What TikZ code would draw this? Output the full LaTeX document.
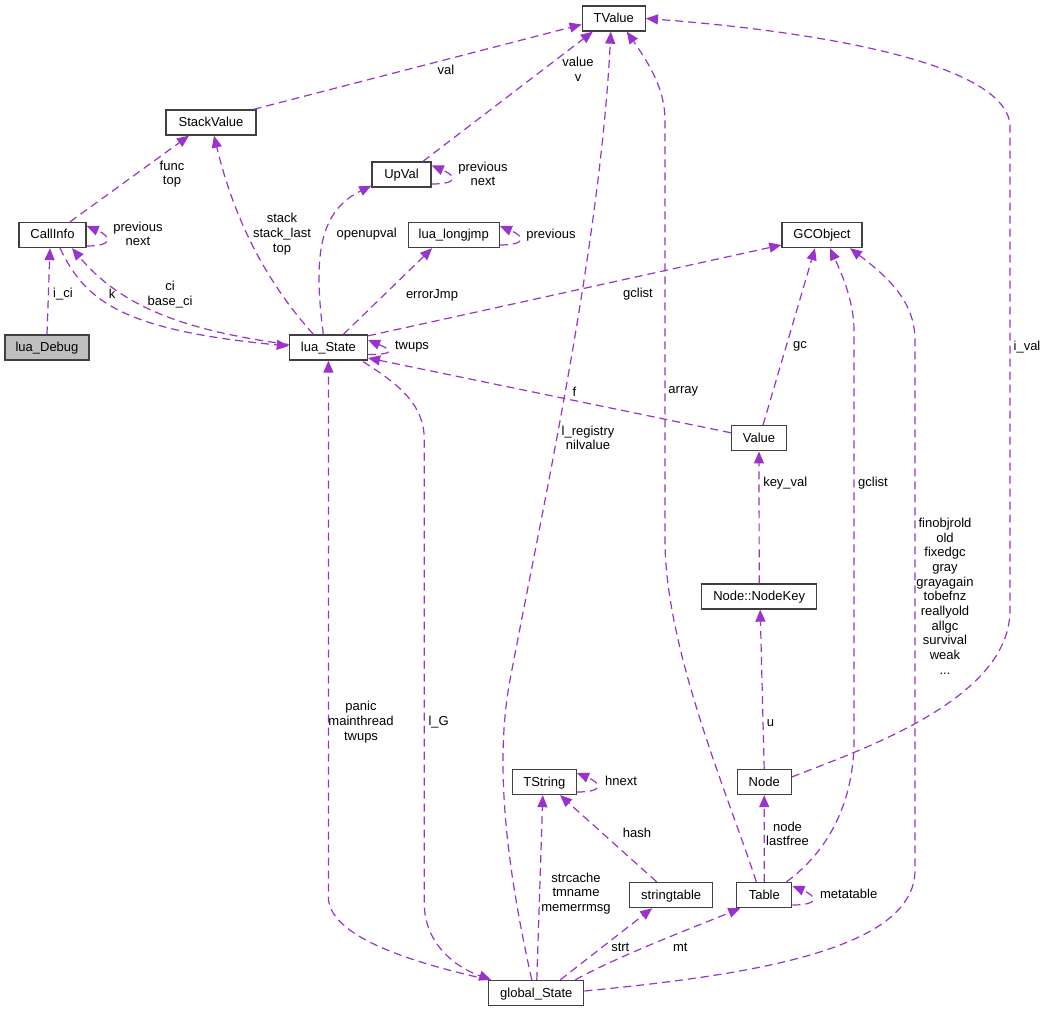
\documentclass[tikz,border=0pt]{standalone}
\usepackage{fontspec}
\setmainfont{Liberation Sans}
\usetikzlibrary{arrows.meta,calc}
\definecolor{dorchid}{HTML}{9A32CD}
\definecolor{curgray}{HTML}{BFBFBF}

\begin{document}
\begin{tikzpicture}[
    x=0.75pt, y=-0.75pt,
    font=\fontsize{9.75}{11}\selectfont,
    box/.style={
        draw=black!75,
        line width=1pt,
        fill=white,
        inner sep=0pt,
        minimum height=18.75pt,
        text height=7pt,
        text depth=1pt
    },
    wd/.style={minimum width=#1*0.75pt},
    cur/.style={box, fill=curgray},
    link/.style={draw=dorchid, line width=0.9pt, dash pattern=on 6pt off 3.75pt,
        -{Triangle[length=9pt,width=7.5pt]}},
    lbl/.style={inner sep=0pt, align=center}
]
\path[use as bounding box, fill=white] (0,0) rectangle (1047,1012);

% ============================================================
% STRUKTURY
% ============================================================
\node[box, wd=63] (tvalue) at (613.8,18.5) {TValue};
\node[box, wd=90] (stackvalue) at (211,122.5) {StackValue};
\node[box, wd=59] (upval) at (401.5,174.5) {UpVal};
\node[box, wd=67] (callinfo) at (52.5,235) {CallInfo};
\node[box, wd=91] (longjmp) at (453.7,235) {lua\_longjmp};
\node[box, wd=80] (gcobject) at (822,235) {GCObject};
\node[cur, wd=84] (luadebug) at (47,347.5) {lua\_Debug};
\node[box, wd=78] (luastate) at (328.4,347.5) {lua\_State};
\node[box, wd=55] (value) at (759,438.3) {Value};
\node[box, wd=115] (nodekey) at (759.2,596.5) {Node::NodeKey};
\node[box, wd=54] (tnode) at (764.2,782) {Node};
\node[box, wd=64] (tstring) at (544.3,782) {TString};
\node[box, wd=83] (strtable) at (671.2,895) {stringtable};
\node[box, wd=55] (table) at (764.3,895) {Table};
\node[box, wd=95] (globalstate) at (536.3,993) {global\_State};

% ============================================================
% POWIAZANIA - GORA
% ============================================================
\draw[link] (luadebug.north) -- ($(callinfo.south)+(-2.5,0)$);
\draw[link] ($(callinfo.east)+(0,11)$) .. controls +(28,0) and +(24,10) .. ($(callinfo.east)+(0,-9)$);
\draw[link] ($(callinfo.north)+(17.5,0)$) -- ($(stackvalue.south)+(-22,0)$);
\draw[link] ($(stackvalue.north east)+(-3,0)$) -- ($(tvalue.west)+(0,6)$);
\draw[link] ($(upval.north)+(21.5,0)$) -- ($(tvalue.south)+(-21,0)$);
\draw[link] ($(upval.east)+(0,9.5)$) .. controls +(28,0) and +(24,10) .. ($(upval.east)+(0,-9)$);
\draw[link] ($(longjmp.east)+(0,10)$) .. controls +(28,0) and +(24,10) .. ($(longjmp.east)+(0,-9)$);

\node[lbl] (l-ici) at (63,294) {i\_ci};
\node[lbl] (l-cinext) at (138,234) {previous\\next};
\node[lbl] (l-func) at (172,174) {func\\top};
\node[lbl] (l-val) at (446,70) {val};
\node[lbl] (l-value) at (578,69.5) {value\\v};
\node[lbl] (l-upnext) at (483,174) {previous\\next};
\node[lbl] (l-jmpprev) at (551,235) {previous};

% ============================================================
% POWIAZANIA - lua_State
% ============================================================
\draw[link] ($(luastate.west)+(0,-3)$) .. controls (180,330) and (120,305) .. ($(callinfo.south)+(19.5,0)$);
\draw[link] ($(callinfo.south)+(7.5,0)$) .. controls (85,300) and (120,330) .. ($(luastate.west)+(0,-1.5)$);
\draw[link] ($(luastate.north)+(-15,0)$) .. controls (260,275) and (232,210) .. ($(stackvalue.south)+(3,0)$);
\draw[link] ($(luastate.north)+(-5,0)$) .. controls (312,250) and (322,210) .. ($(upval.south west)+(0,-2)$);
\draw[link] ($(luastate.north)+(15,0)$) -- ($(longjmp.south)+(-21.5,0)$);
\draw[link] ($(luastate.north east)+(0,1.5)$) -- ($(gcobject.west)+(0,10)$);
\draw[link] ($(luastate.east)+(0,7)$) .. controls +(28,0) and +(24,10) .. ($(luastate.east)+(0,-7.5)$);
\draw[link] ($(value.west)+(0,-5.5)$) -- ($(luastate.east)+(0,10.5)$);
\draw[link] ($(globalstate.north west)+(1,0)$) .. controls (400,960) and (333,935) .. (328.5,900) -- (luastate.south);
\draw[link] ($(luastate.south east)+(-5,1)$) .. controls (400,385) and (424.3,405) .. (424.3,440)
    -- (424.3,905) .. controls (425,940) and (450,965) .. ($(globalstate.north west)+(3,0)$);

\node[lbl] (l-k) at (112,294) {k};
\node[lbl] (l-ci) at (170,294.5) {ci\\base\_ci};
\node[lbl] (l-stack) at (282,234) {stack\\stack\_last\\top};
\node[lbl] (l-open) at (366.7,234) {openupval};
\node[lbl] (l-errjmp) at (432,295) {errorJmp};
\node[lbl] (l-gclist) at (638,294.3) {gclist};
\node[lbl] (l-twups) at (412,347) {twups};
\node[lbl] (l-f) at (574.5,391.7) {f};
\node[lbl] (l-panic) at (361,722) {panic\\mainthread\\twups};
\node[lbl] (l-lg) at (438.7,722) {l\_G};

% ============================================================
% POWIAZANIA - TValue / GCObject
% ============================================================
\draw[link] ($(globalstate.north)+(-4.5,0)$) .. controls (505,860) and (495,760) .. (510,680)
    .. controls (540,520) and (600,250) .. ($(tvalue.south)+(-3,0)$);
\draw[link] ($(table.north)+(-8,0)$) .. controls (730,800) and (665,650) .. (665,540)
    -- (665,120) .. controls (665,90) and (650,65) .. ($(tvalue.south)+(13,0)$);
\draw[link] ($(tnode.east)+(0,-5)$) .. controls (860,750) and (1010,700) .. (1010,610)
    -- (1010,125) .. controls (1005,60) and (800,30) .. (tvalue.east);
\draw[link] ($(value.north)+(4,0)$) -- ($(gcobject.south)+(-7,0)$);
\draw[link] ($(table.north east)+(-6,0)$) .. controls (830,850) and (854,800) .. (854,740)
    -- (854,330) .. controls (854,300) and (840,270) .. ($(gcobject.south)+(8,0)$);
\draw[link] ($(globalstate.east)+(0,-2)$) .. controls (750,975) and (915,950) .. (915,870)
    -- (915,340) .. controls (915,300) and (885,275) .. ($(gcobject.south)+(28,0)$);

\node[lbl] (l-reg) at (588,437.7) {l\_registry\\nilvalue};
\node[lbl] (l-array) at (683.3,391.7) {array};
\node[lbl] (l-ival) at (1027,346.7) {i\_val};
\node[lbl] (l-gc) at (800,346.7) {gc};
\node[lbl] (l-gclist2) at (873,483.3) {gclist};
\node[lbl] (l-finobj) at (945,596.2) {finobjrold\\old\\fixedgc\\gray\\grayagain\\tobefnz\\reallyold\\allgc\\survival\\weak\\...};

% ============================================================
% POWIAZANIA - DOL
% ============================================================
\draw[link] (nodekey.north) -- (value.south);
\draw[link] (tnode.north) -- ($(nodekey.south)+(1,0)$);
\draw[link] (table.north) -- (tnode.south);
\draw[link] ($(table.east)+(0,10)$) .. controls +(28,0) and +(24,10) .. ($(table.east)+(0,-9)$);
\draw[link] ($(tstring.east)+(0,10)$) .. controls +(28,0) and +(24,10) .. ($(tstring.east)+(0,-9)$);
\draw[link] ($(strtable.north)+(-14.5,0)$) -- ($(tstring.south)+(15.7,0)$);
\draw[link] ($(globalstate.north)+(0.5,0)$) -- ($(tstring.south)+(-1.5,0)$);
\draw[link] ($(globalstate.north)+(24,0)$) -- ($(strtable.south)+(-19,0)$);
\draw[link] ($(globalstate.north)+(39,0)$) .. controls (620,955) and (700,925) .. ($(table.south)+(-24,0)$);

\node[lbl] (l-keyval) at (785.3,483.3) {key\_val};
\node[lbl] (l-u) at (770.5,722.7) {u};
\node[lbl] (l-node) at (787.5,834) {node\\lastfree};
\node[lbl] (l-meta) at (848.7,894.3) {metatable};
\node[lbl] (l-hnext) at (621,781.3) {hnext};
\node[lbl] (l-hash) at (637,833.3) {hash};
\node[lbl] (l-strc) at (576,893.5) {strcache\\tmname\\memerrmsg};
\node[lbl] (l-strt) at (620.3,947.7) {strt};
\node[lbl] (l-mt) at (680.3,947.7) {mt};

\end{tikzpicture}
\end{document}
